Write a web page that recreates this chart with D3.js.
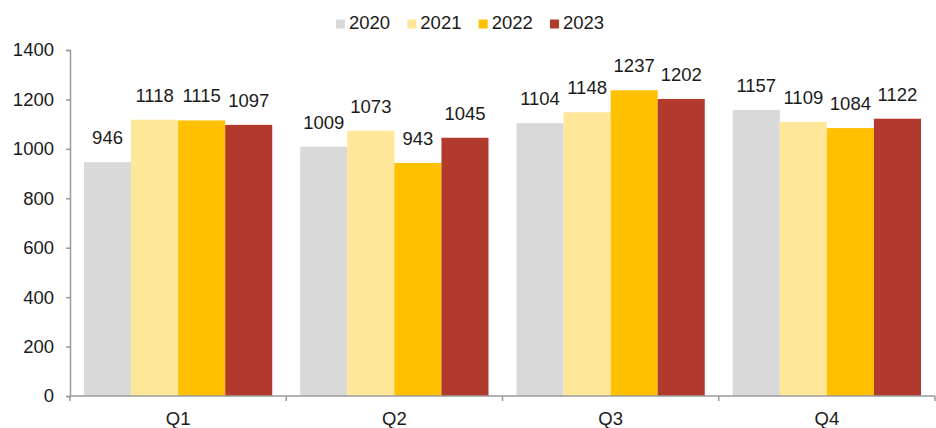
<!DOCTYPE html>
<html>
<head>
<meta charset="utf-8">
<script src="https://cdn.jsdelivr.net/npm/d3@7"></script>
<style>
  body { margin: 0; background: #fff; }
  svg text { font-family: "Liberation Sans", Arial, sans-serif; fill: #1a1a1a; }
</style>
</head>
<body>
<svg id="chart" width="936" height="428"></svg>
<script>
// data
var quarters = ["Q1", "Q2", "Q3", "Q4"];
var years = ["2020", "2021", "2022", "2023"];
var v2020 = [946, 1009, 1104, 1157];
var v2021 = [1118, 1073, 1148, 1109];
var v2022 = [1115, 943, 1237, 1084];
var v2023 = [1097, 1045, 1202, 1122];
var yTicks = [0, 200, 400, 600, 800, 1000, 1200, 1400];
var colors = ["#D9D9D9", "#FFE699", "#FFC000", "#B23A2C"];

var series = [v2020, v2021, v2022, v2023];

var svg = d3.select("#chart");
var plotLeft = 70, plotRight = 935, plotTop = 50, plotBottom = 396;
var fontSize = "18.5px";
var axisColor = "#9a9a9a";

var x0 = d3.scaleBand().domain(quarters).range([plotLeft, plotRight]).padding(0);
var edge = 14;
var x1 = d3.scaleBand().domain(years).range([edge, x0.bandwidth() - edge]).padding(0);
var y = d3.scaleLinear().domain([0, 1400]).range([plotBottom, plotTop]);
var color = d3.scaleOrdinal().domain(years).range(colors);

// bars
var groups = svg.append("g").selectAll("g")
	.data(quarters)
	.enter().append("g")
	.attr("transform", function(q) { return "translate(" + x0(q) + ",0)"; });

groups.each(function(q, qi) {
	var g = d3.select(this);
	var rows = years.map(function(yr, i) { return {year: yr, value: series[i][qi]}; });
	g.selectAll("rect")
		.data(rows)
		.enter().append("rect")
		.attr("x", function(d) { return x1(d.year); })
		.attr("y", function(d) { return y(d.value); })
		.attr("width", x1.bandwidth())
		.attr("height", function(d) { return plotBottom - y(d.value); })
		.attr("fill", function(d) { return color(d.year); });
	g.selectAll("text")
		.data(rows)
		.enter().append("text")
		.attr("x", function(d) { return x1(d.year) + x1.bandwidth() / 2; })
		.attr("y", function(d) { return y(d.value) - 18; })
		.attr("text-anchor", "middle")
		.style("font-size", fontSize)
		.text(function(d) { return d.value; });
});

// y axis
var yAxis = svg.append("g")
	.attr("transform", "translate(" + plotLeft + ",0)")
	.call(d3.axisLeft(y).tickValues(yTicks).tickFormat(d3.format("d")).tickSize(4).tickPadding(12));
yAxis.select(".domain").attr("stroke", axisColor).attr("stroke-width", 1.5);
yAxis.selectAll(".tick line").attr("stroke", axisColor).attr("stroke-width", 1.5);
yAxis.selectAll(".tick text").style("font-size", fontSize).attr("fill", "#1a1a1a");

// x axis
var xAxis = svg.append("g")
	.attr("transform", "translate(0," + plotBottom + ")")
	.call(d3.axisBottom(x0).tickSize(0).tickPadding(16));
xAxis.select(".domain").attr("stroke", axisColor).attr("stroke-width", 1.5)
	.attr("d", "M" + plotLeft + ",0H" + plotRight);
xAxis.selectAll(".tick text").style("font-size", fontSize).attr("fill", "#1a1a1a");
var bounds = quarters.map(function(q) { return x0(q); }).concat([plotRight]);
xAxis.selectAll(".sep")
	.data(bounds)
	.enter().append("line")
	.attr("class", "sep")
	.attr("x1", function(d) { return d; })
	.attr("x2", function(d) { return d; })
	.attr("y1", 0)
	.attr("y2", 5)
	.attr("stroke", axisColor)
	.attr("stroke-width", 1.5);

// legend
var legendX = d3.scalePoint().domain(years).range([336, 550]);
var legend = svg.append("g").selectAll("g")
	.data(years)
	.enter().append("g")
	.attr("transform", function(d) { return "translate(" + legendX(d) + ",0)"; });
legend.append("rect")
	.attr("x", 0).attr("y", 19.5)
	.attr("width", 9).attr("height", 9)
	.attr("fill", function(d) { return color(d); });
legend.append("text")
	.attr("x", 13).attr("y", 28.5)
	.style("font-size", fontSize)
	.text(function(d) { return d; });
</script>
</body>
</html>
